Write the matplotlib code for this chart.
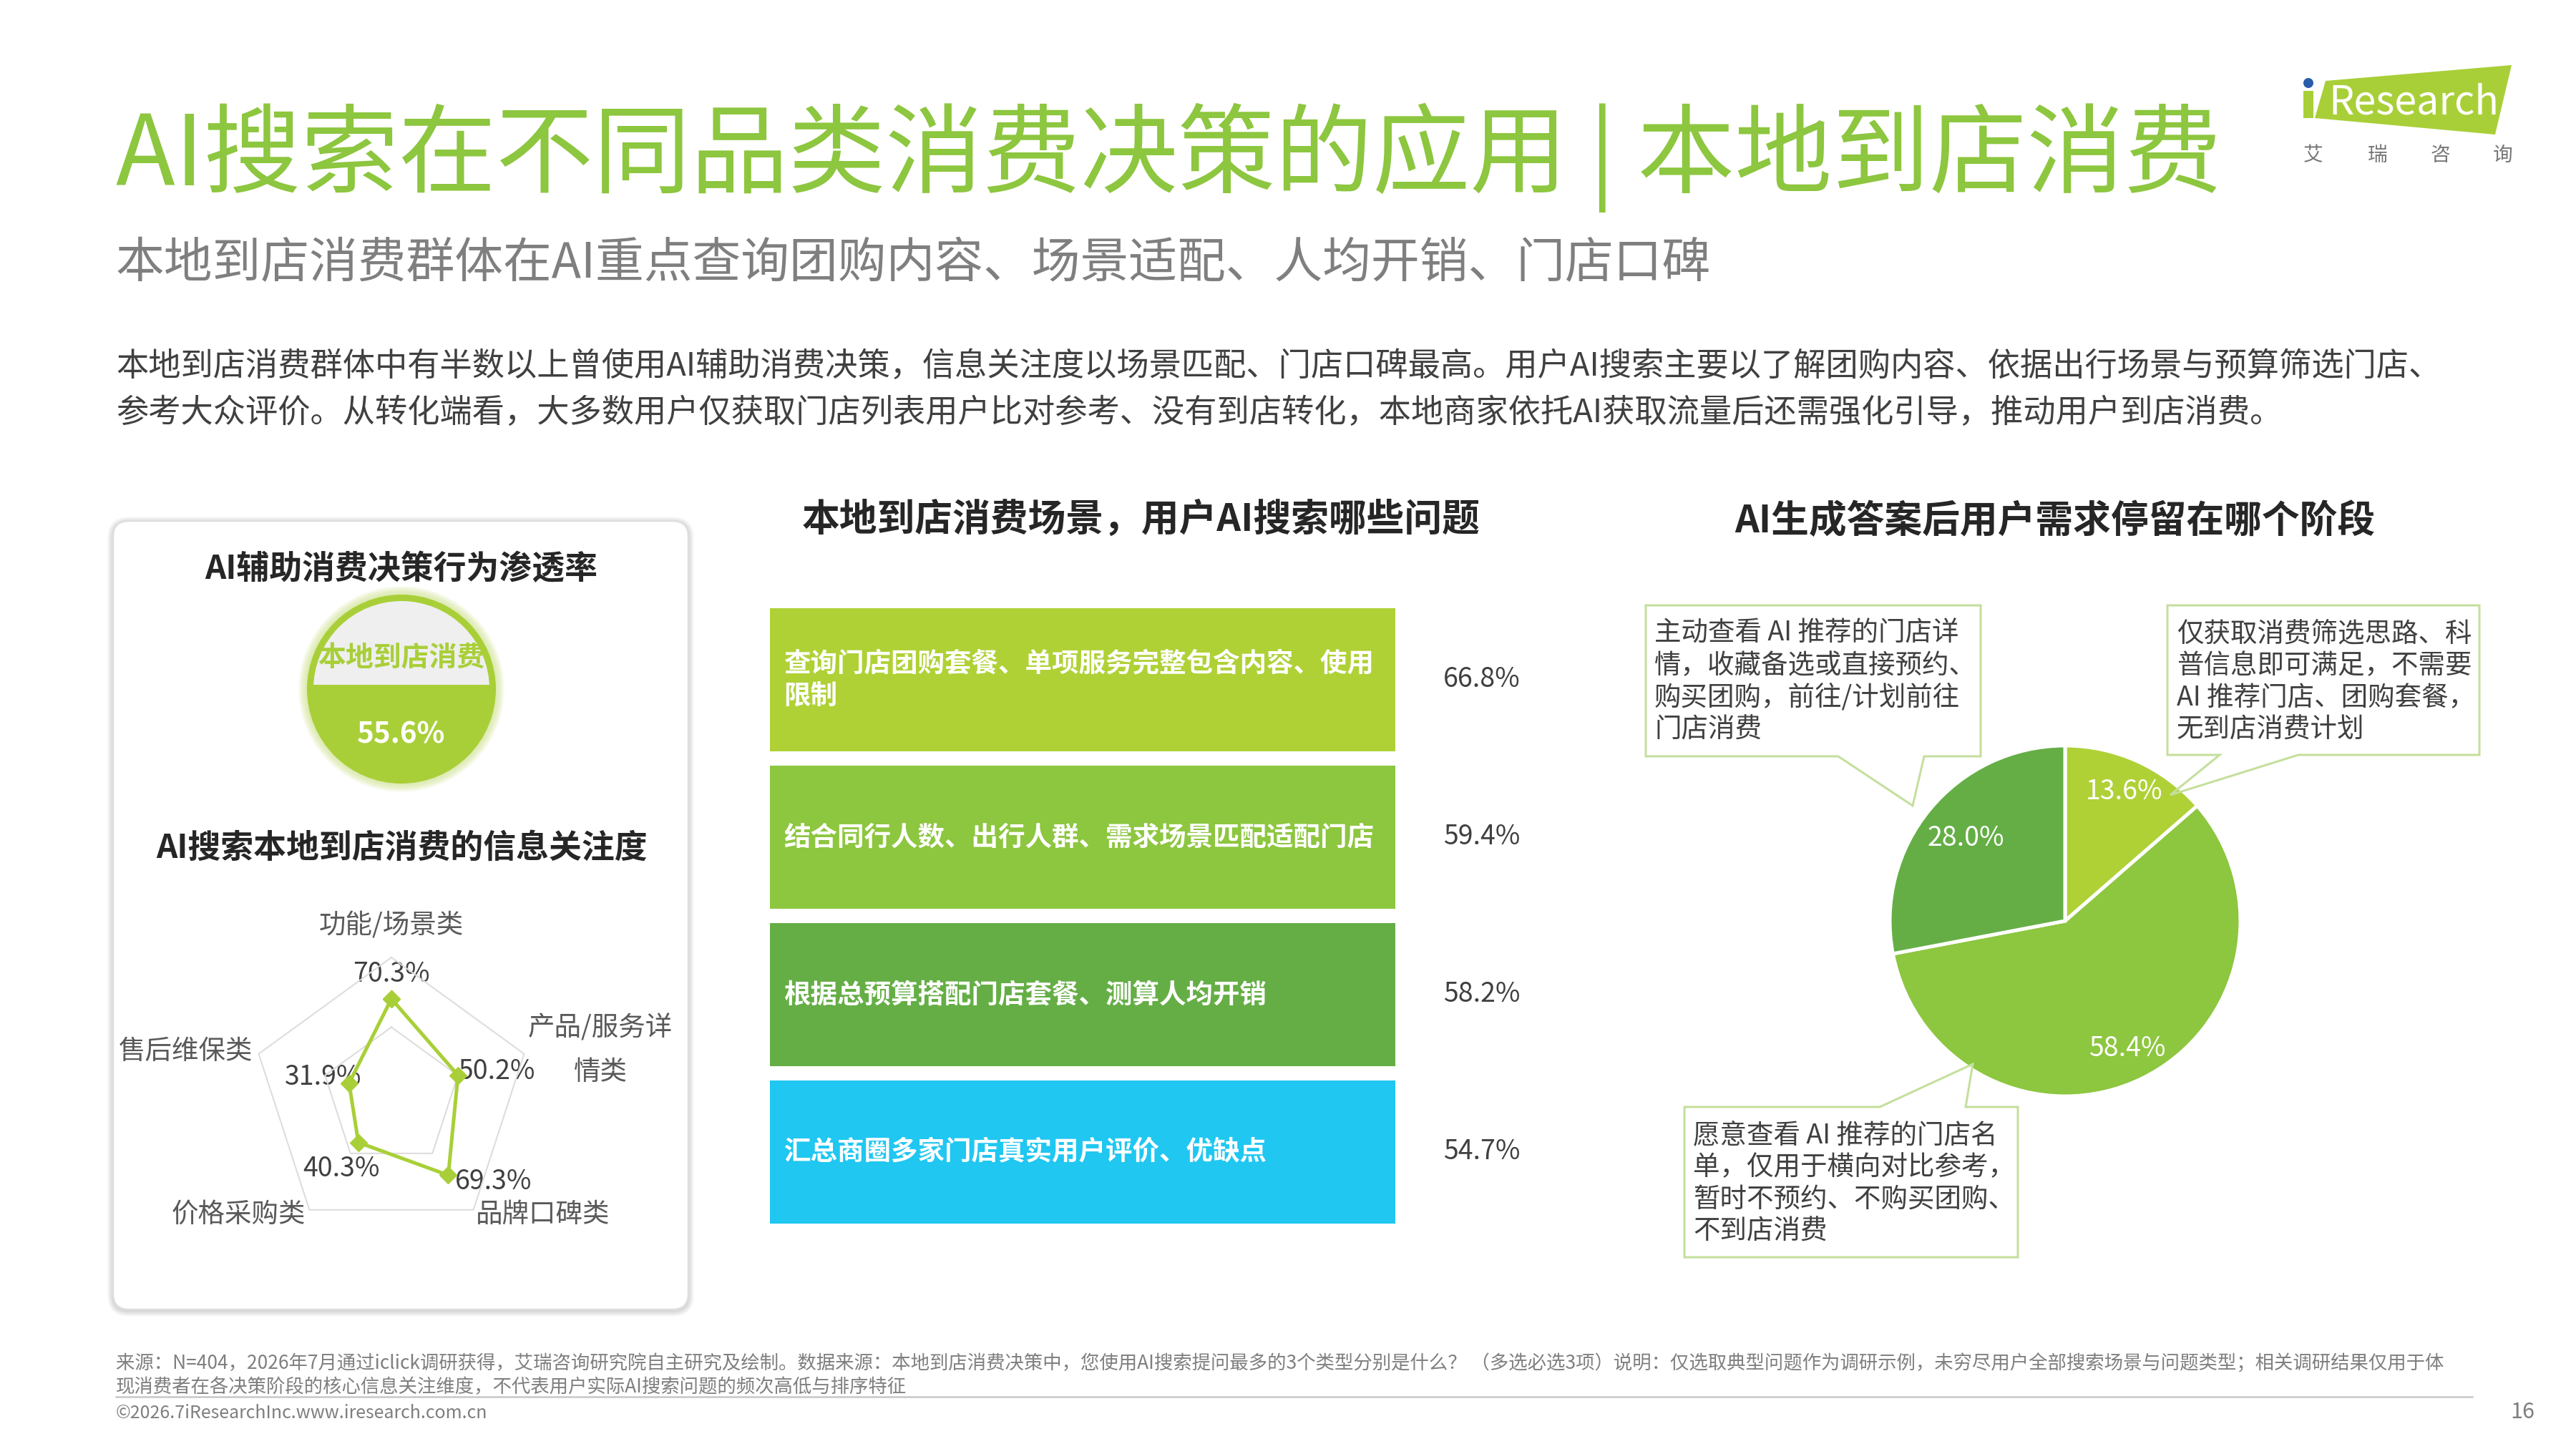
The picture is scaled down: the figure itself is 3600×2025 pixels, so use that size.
import numpy as np
import matplotlib
matplotlib.use('Agg')
import matplotlib.pyplot as plt
from matplotlib.patches import Circle, Rectangle, FancyBboxPatch, Polygon

plt.rcParams['font.family'] = ['Noto Sans CJK SC', 'DejaVu Sans']

W, H = 3600, 2025
GREEN = '#8dc63f'
LIME = '#afd136'
DARK = '#65ae46'
CYAN = '#1fc7f1'
TXT = '#404040'
GRAY = '#7f7f7f'

# ---- data ----
title = 'AI搜索在不同品类消费决策的应用 | 本地到店消费'
subtitle = '本地到店消费群体在AI重点查询团购内容、场景适配、人均开销、门店口碑'
body = ['本地到店消费群体中有半数以上曾使用AI辅助消费决策，信息关注度以场景匹配、门店口碑最高。用户AI搜索主要以了解团购内容、依据出行场景与预算筛选门店、',
        '参考大众评价。从转化端看，大多数用户仅获取门店列表用户比对参考、没有到店转化，本地商家依托AI获取流量后还需强化引导，推动用户到店消费。']

penetration_name = '本地到店消费'
penetration = 55.6

radar_labels = ['功能/场景类', '产品/服务详\n情类', '品牌口碑类', '价格采购类', '售后维保类']
radar_values = [70.3, 50.2, 69.3, 40.3, 31.9]
radar_grid = [50, 100]

bar_labels = ['查询门店团购套餐、单项服务完整包含内容、使用\n限制',
              '结合同行人数、出行人群、需求场景匹配适配门店',
              '根据总预算搭配门店套餐、测算人均开销',
              '汇总商圈多家门店真实用户评价、优缺点']
bar_values = [66.8, 59.4, 58.2, 54.7]
bar_colors = [LIME, GREEN, DARK, CYAN]

pie_values = [13.6, 58.4, 28.0]
pie_colors = [LIME, GREEN, DARK]
pie_notes = ['仅获取消费筛选思路、科\n普信息即可满足，不需要\nAI 推荐门店、团购套餐，\n无到店消费计划',
             '愿意查看 AI 推荐的门店名\n单，仅用于横向对比参考，\n暂时不预约、不购买团购、\n不到店消费',
             '主动查看 AI 推荐的门店详\n情，收藏备选或直接预约、\n购买团购，前往/计划前往\n门店消费']

footer = ['来源：N=404，2026年7月通过iclick调研获得，艾瑞咨询研究院自主研究及绘制。数据来源：本地到店消费决策中，您使用AI搜索提问最多的3个类型分别是什么？ （多选必选3项）说明：仅选取典型问题作为调研示例，未穷尽用户全部搜索场景与问题类型；相关调研结果仅用于体',
          '现消费者在各决策阶段的核心信息关注维度，不代表用户实际AI搜索问题的频次高低与排序特征']
copyright_txt = '©2026.7iResearchInc.www.iresearch.com.cn'
page_no = '16'


def rect(x0, y0, x1, y1):
    # pixel box (top-left origin) -> figure fraction
    return [x0 / W, 1 - y1 / H, (x1 - x0) / W, (y1 - y0) / H]


def px(v):
    return v * 72 / 100


fig = plt.figure(figsize=(36, 20.25), dpi=100)
page = fig.add_axes([0, 0, 1, 1])
page.set_xlim(0, W)
page.set_ylim(H, 0)
page.axis('off')

# header
page.text(162, 220, title, fontsize=98, color=GREEN, va='center', ha='left')
page.text(162, 369, subtitle, fontsize=48.8, color=GRAY, va='center', ha='left')
for i, line in enumerate(body):
    page.text(162, 512 + i * 65, line, fontsize=32.6, color=TXT, va='center', ha='left')

# logo
page.add_patch(Polygon([(3250, 113), (3510, 91), (3487, 188), (3235, 165)], closed=True,
                       fc='#a9cf38', ec='none'))
page.add_patch(Rectangle((3219, 127), 14, 38, fc='#a9cf38', ec='none'))
page.add_patch(Circle((3226, 116), 7, fc='#2a5caa', ec='none'))
page.text(3254, 160, 'Research', fontsize=40, color='white', va='baseline', ha='left')
for x, ch in zip([3233, 3323, 3410, 3498], '艾瑞咨询'):
    page.text(x, 217, ch, fontsize=20, color='#777777', ha='center', va='center')

# left panel
x0, y0, x1, y1 = 158, 728, 962, 1830
for k in range(8, 0, -1):
    page.add_patch(FancyBboxPatch((x0 - k, y0 - k + 2), x1 - x0 + 2 * k, y1 - y0 + 2 * k,
                                  boxstyle='round,pad=0,rounding_size=%d' % (22 + k),
                                  fc='#000000', ec='none', alpha=0.018, zorder=1))
page.add_patch(FancyBboxPatch((x0, y0), x1 - x0, y1 - y0, boxstyle='round,pad=0,rounding_size=22',
                              fc='white', ec='#dedede', lw=px(2.5), zorder=2))

page.text(561, 796, 'AI辅助消费决策行为渗透率', fontsize=33, fontweight='bold', color='#262626',
          ha='center', va='center', zorder=3)
page.text(561, 1186, 'AI搜索本地到店消费的信息关注度', fontsize=33, fontweight='bold', color='#262626',
          ha='center', va='center', zorder=3)

# penetration badge
ccx, ccy, cr = 561, 963, 132
for k in range(12, 0, -1):
    page.add_patch(Circle((ccx, ccy), cr + k, fc='#cfe58a', ec='none', alpha=0.08, zorder=3))
page.add_patch(Circle((ccx, ccy), cr, fc='#a9cf38', ec='none', zorder=3))
clip = Rectangle((ccx - cr, ccy - cr), 2 * cr, cr - 6, transform=page.transData)
inner = Circle((ccx, ccy), cr - 9, fc='#efeff0', ec='none', zorder=3)
page.add_patch(inner)
inner.set_clip_path(clip)
page.text(ccx, 920, penetration_name, fontsize=28, fontweight='bold', color='#a9cf38',
          ha='center', va='center', zorder=4)
page.text(ccx, 1027, '%.1f%%' % penetration, fontsize=29, fontweight='bold', color='white',
          ha='center', va='center', zorder=4)

# radar labels
label_pos = [(547, 1294, 'center'), (839, 1468, 'center'), (759, 1697, 'center'),
             (333, 1697, 'center'), (260, 1469, 'center')]
value_pos = [(547, 1362), (694, 1497), (690, 1652), (477, 1634), (452, 1505)]
for (x, y, ha), lab in zip(label_pos, radar_labels):
    page.text(x, y, lab, fontsize=27, color='#595959', ha=ha, va='center', linespacing=1.75, zorder=4)
for (x, y), v in zip(value_pos, radar_values):
    page.text(x, y, '%.1f%%' % v, fontsize=27, color=TXT, ha='center', va='center', zorder=4)

# section titles
page.text(1595, 726, '本地到店消费场景，用户AI搜索哪些问题', fontsize=38, fontweight='bold',
          color='#262626', ha='center', va='center')
page.text(2872, 728, 'AI生成答案后用户需求停留在哪个阶段', fontsize=38, fontweight='bold',
          color='#262626', ha='center', va='center')

# footer
for i, line in enumerate(footer):
    page.text(162, 1906 + i * 32, line, fontsize=19, color=GRAY, ha='left', va='center')
page.plot([162, 3455], [1952, 1952], color='#c8c8c8', lw=px(2.5))
page.text(162, 1975, copyright_txt, fontsize=18, color=GRAY, ha='left', va='center')
page.text(3525, 1973, page_no, fontsize=22, color=GRAY, ha='center', va='center')

# ---- radar chart ----
rcx, rcy, R = 547, 1533, 195
rad = fig.add_axes(rect(rcx - R, rcy - R, rcx + R, rcy + R), projection='polar')
rad.set_theta_zero_location('N')
rad.set_theta_direction(-1)
n = len(radar_labels)
theta = np.linspace(0, 2 * np.pi, n, endpoint=False)
tc = np.append(theta, theta[0])
for lvl in radar_grid:
    rad.plot(tc, [lvl] * (n + 1), color='#dcdcdc', lw=px(2), clip_on=False)
rad.plot(tc, radar_values + radar_values[:1], color='#a9cf38', lw=px(5), marker='D',
         ms=12, mfc='#a9cf38', mec='#a9cf38', clip_on=False)
rad.set_ylim(0, 100)
rad.axis('off')

# ---- bar chart ----
bar_ax = fig.add_axes(rect(1076, 840, 1950, 1720))
ypos = np.arange(len(bar_labels))
bar_ax.barh(ypos, [1] * len(bar_labels), height=0.91, color=bar_colors, edgecolor='none')
bar_ax.set_xlim(0, 1)
bar_ax.set_ylim(len(bar_labels) - 0.5, -0.5)
bar_ax.axis('off')
tr = bar_ax.get_yaxis_transform()
for i, (lab, v) in enumerate(zip(bar_labels, bar_values)):
    bar_ax.text(0.022, i, lab, transform=tr, fontsize=27, fontweight='bold', color='white',
                ha='left', va='center', linespacing=1.25)
    bar_ax.text(1.077, i, '%.1f%%' % v, transform=tr, fontsize=27, color=TXT,
                ha='left', va='center', clip_on=False)

# ---- pie chart ----
pcx, pcy, pr = 2886, 1287, 245
pie_ax = fig.add_axes(rect(pcx - pr, pcy - pr, pcx + pr, pcy + pr))
_, _, pct_texts = pie_ax.pie(pie_values, colors=pie_colors, startangle=90, counterclock=False,
                             autopct='%.1f%%', pctdistance=0.81,
                             wedgeprops=dict(edgecolor='white', linewidth=px(5)),
                             textprops=dict(color='white', fontsize=27))
# the 28.0% label sits a little closer to the centre in the original
tx, ty = pct_texts[2].get_position()
pct_texts[2].set_position((tx * 0.91, ty * 0.91))
pie_ax.set_xlim(-1, 1)
pie_ax.set_ylim(-1, 1)

# ---- callouts on top ----
fg = fig.add_axes([0, 0, 1, 1])
fg.set_xlim(0, W)
fg.set_ylim(H, 0)
fg.axis('off')
BOX = '#c4df9c'
callouts = [
    # outline vertices, text origin
    ([(3029, 846), (3465, 846), (3465, 1055), (3212, 1055), (3033, 1111), (3102, 1055), (3029, 1055)],
     (3042, 866)),
    ([(2354, 1547), (2627, 1547), (2757, 1487), (2747, 1547), (2820, 1547), (2820, 1757), (2354, 1757)],
     (2366, 1567)),
    ([(2300, 846), (2768, 846), (2768, 1057), (2689, 1057), (2673, 1126), (2569, 1057), (2300, 1057)],
     (2312, 866)),
]
for (verts, (tx, ty)), note in zip(callouts, pie_notes):
    fg.add_patch(Polygon(verts, closed=True, fc='none', ec=BOX, lw=px(3)))
    fg.text(tx, ty, note, fontsize=27, color=TXT, ha='left', va='top', linespacing=1.2)

fig.savefig('out.png', dpi=100, facecolor='white')
